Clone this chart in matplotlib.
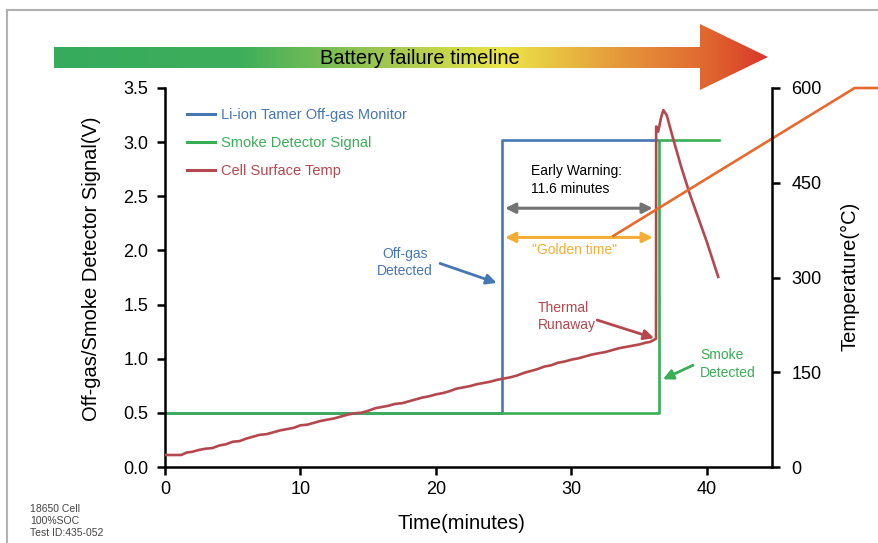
import numpy as np
import matplotlib
matplotlib.use('Agg')
import matplotlib.pyplot as plt
from matplotlib.colors import LinearSegmentedColormap
from matplotlib.patches import Polygon
from matplotlib.lines import Line2D

plt.rcParams['font.family'] = ['Liberation Sans', 'DejaVu Sans']

# ---- data ----
# off-gas monitor signal (V)
offgas_t = [0, 24.85, 24.85, 36.3]
offgas_v = [0.5, 0.5, 3.02, 3.02]
# smoke detector signal (V)
smoke_t = [0, 36.45, 36.45, 40.9]
smoke_v = [0.5, 0.5, 3.02, 3.02]
# cell surface temperature (deg C)
temp_t = [0, 1.2, 1.6, 2, 2.5, 3, 3.5, 4, 4.5, 5, 5.5, 6, 6.5, 7, 7.5, 8, 8.5,
          9, 9.5, 10, 10.5, 11, 11.5, 12, 12.5, 13, 13.5, 14, 14.5, 15, 15.5,
          16, 16.5, 17, 17.5, 18, 18.5, 19, 19.5, 20, 20.5, 21, 21.5, 22, 22.5,
          23, 23.5, 24, 24.5, 25, 25.5, 26, 26.5, 27, 27.5, 28, 28.5, 29, 29.5,
          30, 30.5, 31, 31.5, 32, 32.5, 33, 33.5, 34, 34.5, 35, 35.5, 35.8,
          36.24, 36.25, 36.4, 36.6, 36.78, 37.03, 37.5, 38.1, 38.75, 39.4,
          39.98, 40.83]
temp_c = [19, 19, 23, 24, 27, 29, 30, 34, 36, 40, 41, 45, 48, 51, 52, 55, 58,
          60, 62, 66, 67, 70, 73, 75, 77, 80, 83, 85, 86, 89, 93, 95, 97, 100,
          101, 104, 107, 110, 112, 115, 117, 120, 124, 126, 128, 131, 133, 135,
          138, 140, 142, 145, 149, 152, 155, 159, 161, 165, 167, 170, 172, 175,
          178, 180, 182, 185, 188, 190, 192, 194, 197, 198, 203, 539, 531, 552,
          565, 557, 520, 475, 431, 392, 357, 301]
# orange temperature trace
hot_t = [33.1, 50.9, 53.0]
hot_c = [366, 600, 600]

xticks = [0, 10, 20, 30, 40]
yticks = [0.0, 0.5, 1.0, 1.5, 2.0, 2.5, 3.0, 3.5]
tticks = [0, 150, 300, 450, 600]
labels = ['Li-ion Tamer Off-gas Monitor', 'Smoke Detector Signal', 'Cell Surface Temp']

blue = '#4677b5'
green = '#3aae55'
red = '#b5474e'
orange = '#e8692d'
gold = '#f5ae35'
gray = '#737373'

W, H = 879, 543
fig = plt.figure(figsize=(W / 100, H / 100), dpi=100)

# decoration layer in pixel coords
deco = fig.add_axes([0, 0, 1, 1], zorder=0)
deco.axis('off')

# gradient timeline arrow
cmap = LinearSegmentedColormap.from_list('timeline', [
    (0.0, '#37ab5d'), (0.26, '#3dae5b'), (0.47, '#a3c850'), (0.63, '#ebe548'),
    (0.8, '#e5953a'), (0.92, '#e0652f'), (1.0, '#d8382a')])
arrow = Polygon([[54, 47], [700, 47], [700, 24], [768, 57], [700, 90], [700, 68], [54, 68]],
                closed=True, facecolor='none', edgecolor='none', transform=deco.transData)
deco.add_patch(arrow)
im = deco.imshow(np.linspace(0, 1, 512).reshape(1, -1), cmap=cmap,
                 extent=[54, 768, 90, 24], aspect='auto', interpolation='bilinear')
im.set_clip_path(arrow)
deco.text(420, 58, 'Battery failure timeline', fontsize=14.5, ha='center', va='center')

# frame lines
deco.plot([7, W], [10, 10], color='#b0b0b0', lw=1.5)
deco.plot([7, 7], [10, H], color='#b0b0b0', lw=1.5)

deco.text(30, 521, '18650 Cell\n100%SOC\nTest ID:435-052', fontsize=7.5,
          color='#444444', ha='left', va='center', linespacing=1.2)
deco.set_xlim(0, W)
deco.set_ylim(H, 0)

# main axes
ax = fig.add_axes([165 / W, 1 - 467 / H, (772 - 165) / W, (467 - 88) / H], zorder=1)
ax.patch.set_alpha(0)
ax.plot(offgas_t, offgas_v, color=blue, lw=1.9)
ax.plot(smoke_t, smoke_v, color=green, lw=1.9)
ax.set_xlim(0, 44.8)
ax.set_ylim(0, 3.5)
ax.set_xticks(xticks)
ax.set_yticks(yticks)
ax.set_yticklabels([f'{v:.1f}' for v in yticks])
for s in ['top', 'right']:
    ax.spines[s].set_visible(False)
for s in ['left', 'bottom']:
    ax.spines[s].set_linewidth(1.8)
ax.tick_params(direction='out', length=6, width=1.8, labelsize=13)
ax.tick_params(axis='y', pad=6)
ax.tick_params(axis='x', pad=4)
ax.set_xlabel('Time(minutes)', fontsize=14.5)
ax.xaxis.set_label_coords(0.489, -0.124)
ax.set_ylabel('Off-gas/Smoke Detector Signal(V)', fontsize=14.5)
ax.yaxis.set_label_coords(-0.105, 0.524)

# temperature axis
ax2 = ax.twinx()
ax2.set_zorder(2)
ax2.patch.set_visible(False)
ax2.plot(temp_t, temp_c, color=red, lw=1.9)
ax2.plot(hot_t, hot_c, color=orange, lw=1.9, clip_on=False)
ax2.set_ylim(0, 600)
ax2.set_yticks(tticks)
for s in ['top', 'left', 'bottom']:
    ax2.spines[s].set_visible(False)
ax2.spines['right'].set_linewidth(1.8)
ax2.tick_params(direction='out', length=6, width=1.8, labelsize=13, pad=8)
ax2.set_ylabel('Temperature(\u00b0C)', fontsize=14.5)
ax2.yaxis.set_label_coords(1.112, 0.504)

# legend
handles = [Line2D([], [], color=c, lw=2.2) for c in (blue, green, red)]
ax.legend(handles, labels, loc='upper left', bbox_to_anchor=(0.036, 0.947),
          frameon=False, fontsize=10.5, labelcolor='linecolor', handlelength=1.9,
          handletextpad=0.45, labelspacing=0.95, borderpad=0, borderaxespad=0)

# annotations
ax.text(27.0, 2.65, 'Early Warning:\n11.6 minutes', fontsize=10, ha='left', va='center',
        linespacing=1.3)
ax.annotate('', xy=(36.0, 2.39), xytext=(25.1, 2.39),
            arrowprops=dict(arrowstyle='<|-|>', color=gray, lw=2.2, mutation_scale=15,
                            shrinkA=0, shrinkB=0))
ax.annotate('', xy=(36.0, 2.12), xytext=(25.1, 2.12),
            arrowprops=dict(arrowstyle='<|-|>', color=gold, lw=2.2, mutation_scale=15,
                            shrinkA=0, shrinkB=0))
ax.text(30.26, 2.0, '"Golden time"', fontsize=10, color=gold, ha='center', va='center')

ax.text(17.7, 1.89, 'Off-gas\nDetected', fontsize=10, color=blue, ha='center', va='center',
        linespacing=1.3)
ax.annotate('', xy=(24.48, 1.70), xytext=(20.3, 1.88),
            arrowprops=dict(arrowstyle='-|>', color=blue, lw=2, mutation_scale=15,
                            shrinkA=0, shrinkB=0))

ax.text(27.5, 1.39, 'Thermal\nRunaway', fontsize=10, color=red, ha='left', va='center',
        linespacing=1.3)
ax.annotate('', xy=(36.1, 1.19), xytext=(31.9, 1.357),
            arrowprops=dict(arrowstyle='-|>', color=red, lw=2, mutation_scale=15,
                            shrinkA=0, shrinkB=0))

ax.text(39.5, 0.95, 'Smoke\nDetected', fontsize=10, color=green, ha='left', va='center',
        linespacing=1.3)
ax.annotate('', xy=(36.75, 0.81), xytext=(38.97, 0.94),
            arrowprops=dict(arrowstyle='-|>', color=green, lw=2, mutation_scale=15,
                            shrinkA=0, shrinkB=0))

fig.savefig('out.png', dpi=100)
